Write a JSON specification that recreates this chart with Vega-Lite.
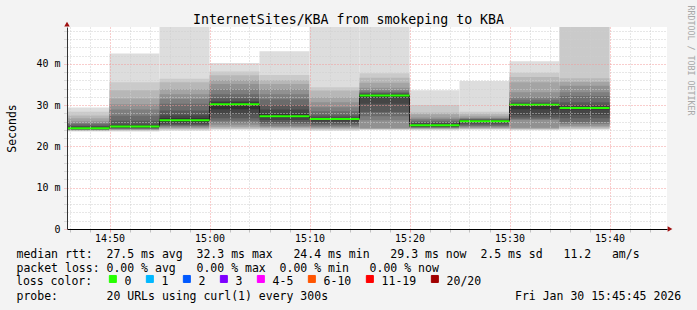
{
  "$schema": "https://vega.github.io/schema/vega-lite/v6.json",
  "width": 600,
  "height": 202,
  "autosize": {"type": "none"},
  "padding": {"left": 67, "top": 27, "right": 30, "bottom": 81},
  "background": "#f3f3f3",
  "config": {
    "font": "DejaVu Sans Mono",
    "view": {"fill": "#ffffff", "stroke": null}
  },
  "title": {
    "text": "InternetSites/KBA from smokeping to KBA",
    "font": "DejaVu Sans Mono",
    "fontSize": 13.25,
    "fontWeight": "normal",
    "color": "#000000",
    "anchor": "middle",
    "frame": "group",
    "baseline": "alphabetic",
    "dx": -18.5,
    "dy": 32,
    "offset": 0
  },
  "datasets": {
    "smoke": [
      {"t": "2026-01-30T14:45:00", "t2": "2026-01-30T14:50:00", "k": 1, "lo": 23.6, "hi": 29.4},
      {"t": "2026-01-30T14:45:00", "t2": "2026-01-30T14:50:00", "k": 2, "lo": 23.7, "hi": 28.4},
      {"t": "2026-01-30T14:45:00", "t2": "2026-01-30T14:50:00", "k": 3, "lo": 23.8, "hi": 27.5},
      {"t": "2026-01-30T14:45:00", "t2": "2026-01-30T14:50:00", "k": 4, "lo": 23.9, "hi": 26.8},
      {"t": "2026-01-30T14:45:00", "t2": "2026-01-30T14:50:00", "k": 5, "lo": 24.0, "hi": 26.1},
      {"t": "2026-01-30T14:45:00", "t2": "2026-01-30T14:50:00", "k": 6, "lo": 24.05, "hi": 25.7},
      {"t": "2026-01-30T14:45:00", "t2": "2026-01-30T14:50:00", "k": 7, "lo": 24.1, "hi": 25.4},
      {"t": "2026-01-30T14:45:00", "t2": "2026-01-30T14:50:00", "k": 8, "lo": 24.15, "hi": 25.0},
      {"t": "2026-01-30T14:45:00", "t2": "2026-01-30T14:50:00", "k": 9, "lo": 24.2, "hi": 24.8},
      {"t": "2026-01-30T14:45:00", "t2": "2026-01-30T14:50:00", "k": 10, "lo": 24.3, "hi": 24.6},

      {"t": "2026-01-30T14:50:00", "t2": "2026-01-30T14:55:00", "k": 1, "lo": 23.6, "hi": 42.5},
      {"t": "2026-01-30T14:50:00", "t2": "2026-01-30T14:55:00", "k": 2, "lo": 23.8, "hi": 35.5},
      {"t": "2026-01-30T14:50:00", "t2": "2026-01-30T14:55:00", "k": 3, "lo": 23.9, "hi": 33.6},
      {"t": "2026-01-30T14:50:00", "t2": "2026-01-30T14:55:00", "k": 4, "lo": 24.0, "hi": 31.6},
      {"t": "2026-01-30T14:50:00", "t2": "2026-01-30T14:55:00", "k": 5, "lo": 24.1, "hi": 30.2},
      {"t": "2026-01-30T14:50:00", "t2": "2026-01-30T14:55:00", "k": 6, "lo": 24.2, "hi": 28.9},
      {"t": "2026-01-30T14:50:00", "t2": "2026-01-30T14:55:00", "k": 7, "lo": 24.3, "hi": 27.4},
      {"t": "2026-01-30T14:50:00", "t2": "2026-01-30T14:55:00", "k": 8, "lo": 24.4, "hi": 26.2},
      {"t": "2026-01-30T14:50:00", "t2": "2026-01-30T14:55:00", "k": 9, "lo": 24.5, "hi": 25.3},
      {"t": "2026-01-30T14:50:00", "t2": "2026-01-30T14:55:00", "k": 10, "lo": 24.7, "hi": 25.0},

      {"t": "2026-01-30T14:55:00", "t2": "2026-01-30T15:00:00", "k": 1, "lo": 23.8, "hi": 55.0},
      {"t": "2026-01-30T14:55:00", "t2": "2026-01-30T15:00:00", "k": 2, "lo": 24.0, "hi": 36.4},
      {"t": "2026-01-30T14:55:00", "t2": "2026-01-30T15:00:00", "k": 3, "lo": 24.2, "hi": 35.5},
      {"t": "2026-01-30T14:55:00", "t2": "2026-01-30T15:00:00", "k": 4, "lo": 24.4, "hi": 33.9},
      {"t": "2026-01-30T14:55:00", "t2": "2026-01-30T15:00:00", "k": 5, "lo": 24.6, "hi": 32.6},
      {"t": "2026-01-30T14:55:00", "t2": "2026-01-30T15:00:00", "k": 6, "lo": 24.8, "hi": 31.5},
      {"t": "2026-01-30T14:55:00", "t2": "2026-01-30T15:00:00", "k": 7, "lo": 25.0, "hi": 30.3},
      {"t": "2026-01-30T14:55:00", "t2": "2026-01-30T15:00:00", "k": 8, "lo": 25.2, "hi": 28.7},
      {"t": "2026-01-30T14:55:00", "t2": "2026-01-30T15:00:00", "k": 9, "lo": 25.5, "hi": 27.5},
      {"t": "2026-01-30T14:55:00", "t2": "2026-01-30T15:00:00", "k": 10, "lo": 25.9, "hi": 26.8},

      {"t": "2026-01-30T15:00:00", "t2": "2026-01-30T15:05:00", "k": 1, "lo": 24.0, "hi": 40.2},
      {"t": "2026-01-30T15:00:00", "t2": "2026-01-30T15:05:00", "k": 2, "lo": 24.2, "hi": 38.1},
      {"t": "2026-01-30T15:00:00", "t2": "2026-01-30T15:05:00", "k": 3, "lo": 24.4, "hi": 37.2},
      {"t": "2026-01-30T15:00:00", "t2": "2026-01-30T15:05:00", "k": 4, "lo": 24.7, "hi": 36.1},
      {"t": "2026-01-30T15:00:00", "t2": "2026-01-30T15:05:00", "k": 5, "lo": 25.1, "hi": 35.1},
      {"t": "2026-01-30T15:00:00", "t2": "2026-01-30T15:05:00", "k": 6, "lo": 25.6, "hi": 33.9},
      {"t": "2026-01-30T15:00:00", "t2": "2026-01-30T15:05:00", "k": 7, "lo": 26.2, "hi": 32.6},
      {"t": "2026-01-30T15:00:00", "t2": "2026-01-30T15:05:00", "k": 8, "lo": 26.8, "hi": 31.6},
      {"t": "2026-01-30T15:00:00", "t2": "2026-01-30T15:05:00", "k": 9, "lo": 27.8, "hi": 30.9},
      {"t": "2026-01-30T15:00:00", "t2": "2026-01-30T15:05:00", "k": 10, "lo": 29.0, "hi": 30.6},

      {"t": "2026-01-30T15:05:00", "t2": "2026-01-30T15:10:00", "k": 1, "lo": 23.9, "hi": 43.0},
      {"t": "2026-01-30T15:05:00", "t2": "2026-01-30T15:10:00", "k": 2, "lo": 24.1, "hi": 37.3},
      {"t": "2026-01-30T15:05:00", "t2": "2026-01-30T15:10:00", "k": 3, "lo": 24.3, "hi": 36.1},
      {"t": "2026-01-30T15:05:00", "t2": "2026-01-30T15:10:00", "k": 4, "lo": 24.5, "hi": 35.1},
      {"t": "2026-01-30T15:05:00", "t2": "2026-01-30T15:10:00", "k": 5, "lo": 24.7, "hi": 33.9},
      {"t": "2026-01-30T15:05:00", "t2": "2026-01-30T15:10:00", "k": 6, "lo": 25.0, "hi": 32.6},
      {"t": "2026-01-30T15:05:00", "t2": "2026-01-30T15:10:00", "k": 7, "lo": 25.4, "hi": 31.4},
      {"t": "2026-01-30T15:05:00", "t2": "2026-01-30T15:10:00", "k": 8, "lo": 25.8, "hi": 30.0},
      {"t": "2026-01-30T15:05:00", "t2": "2026-01-30T15:10:00", "k": 9, "lo": 26.4, "hi": 28.9},
      {"t": "2026-01-30T15:05:00", "t2": "2026-01-30T15:10:00", "k": 10, "lo": 27.0, "hi": 27.8},

      {"t": "2026-01-30T15:10:00", "t2": "2026-01-30T15:15:00", "k": 1, "lo": 23.8, "hi": 56.0},
      {"t": "2026-01-30T15:10:00", "t2": "2026-01-30T15:15:00", "k": 2, "lo": 24.0, "hi": 34.3},
      {"t": "2026-01-30T15:10:00", "t2": "2026-01-30T15:15:00", "k": 3, "lo": 24.2, "hi": 33.5},
      {"t": "2026-01-30T15:10:00", "t2": "2026-01-30T15:15:00", "k": 4, "lo": 24.4, "hi": 31.9},
      {"t": "2026-01-30T15:10:00", "t2": "2026-01-30T15:15:00", "k": 5, "lo": 24.6, "hi": 30.7},
      {"t": "2026-01-30T15:10:00", "t2": "2026-01-30T15:15:00", "k": 6, "lo": 24.8, "hi": 29.5},
      {"t": "2026-01-30T15:10:00", "t2": "2026-01-30T15:15:00", "k": 7, "lo": 25.1, "hi": 28.5},
      {"t": "2026-01-30T15:10:00", "t2": "2026-01-30T15:15:00", "k": 8, "lo": 25.5, "hi": 27.5},
      {"t": "2026-01-30T15:10:00", "t2": "2026-01-30T15:15:00", "k": 9, "lo": 25.9, "hi": 27.0},
      {"t": "2026-01-30T15:10:00", "t2": "2026-01-30T15:15:00", "k": 10, "lo": 26.3, "hi": 26.8},

      {"t": "2026-01-30T15:15:00", "t2": "2026-01-30T15:20:00", "k": 1, "lo": 24.0, "hi": 57.0},
      {"t": "2026-01-30T15:15:00", "t2": "2026-01-30T15:20:00", "k": 2, "lo": 24.1, "hi": 37.7},
      {"t": "2026-01-30T15:15:00", "t2": "2026-01-30T15:20:00", "k": 3, "lo": 24.2, "hi": 36.6},
      {"t": "2026-01-30T15:15:00", "t2": "2026-01-30T15:20:00", "k": 4, "lo": 24.3, "hi": 35.4},
      {"t": "2026-01-30T15:15:00", "t2": "2026-01-30T15:20:00", "k": 5, "lo": 24.4, "hi": 34.2},
      {"t": "2026-01-30T15:15:00", "t2": "2026-01-30T15:20:00", "k": 6, "lo": 26.3, "hi": 33.6},
      {"t": "2026-01-30T15:15:00", "t2": "2026-01-30T15:20:00", "k": 7, "lo": 27.3, "hi": 33.2},
      {"t": "2026-01-30T15:15:00", "t2": "2026-01-30T15:20:00", "k": 8, "lo": 28.3, "hi": 32.9},
      {"t": "2026-01-30T15:15:00", "t2": "2026-01-30T15:20:00", "k": 9, "lo": 30.3, "hi": 32.7},
      {"t": "2026-01-30T15:15:00", "t2": "2026-01-30T15:20:00", "k": 10, "lo": 31.8, "hi": 32.5},

      {"t": "2026-01-30T15:20:00", "t2": "2026-01-30T15:25:00", "k": 1, "lo": 23.9, "hi": 33.6},
      {"t": "2026-01-30T15:20:00", "t2": "2026-01-30T15:25:00", "k": 2, "lo": 24.1, "hi": 30.0},
      {"t": "2026-01-30T15:20:00", "t2": "2026-01-30T15:25:00", "k": 3, "lo": 24.2, "hi": 28.2},
      {"t": "2026-01-30T15:20:00", "t2": "2026-01-30T15:25:00", "k": 4, "lo": 24.3, "hi": 27.8},
      {"t": "2026-01-30T15:20:00", "t2": "2026-01-30T15:25:00", "k": 5, "lo": 24.4, "hi": 27.0},
      {"t": "2026-01-30T15:20:00", "t2": "2026-01-30T15:25:00", "k": 6, "lo": 24.5, "hi": 26.6},
      {"t": "2026-01-30T15:20:00", "t2": "2026-01-30T15:25:00", "k": 7, "lo": 24.6, "hi": 26.2},
      {"t": "2026-01-30T15:20:00", "t2": "2026-01-30T15:25:00", "k": 8, "lo": 24.7, "hi": 25.9},
      {"t": "2026-01-30T15:20:00", "t2": "2026-01-30T15:25:00", "k": 9, "lo": 24.8, "hi": 25.6},
      {"t": "2026-01-30T15:20:00", "t2": "2026-01-30T15:25:00", "k": 10, "lo": 24.9, "hi": 25.3},

      {"t": "2026-01-30T15:25:00", "t2": "2026-01-30T15:30:00", "k": 1, "lo": 24.0, "hi": 35.8},
      {"t": "2026-01-30T15:25:00", "t2": "2026-01-30T15:30:00", "k": 2, "lo": 24.2, "hi": 28.4},
      {"t": "2026-01-30T15:25:00", "t2": "2026-01-30T15:30:00", "k": 3, "lo": 24.3, "hi": 27.9},
      {"t": "2026-01-30T15:25:00", "t2": "2026-01-30T15:30:00", "k": 4, "lo": 24.4, "hi": 27.4},
      {"t": "2026-01-30T15:25:00", "t2": "2026-01-30T15:30:00", "k": 5, "lo": 24.6, "hi": 27.0},
      {"t": "2026-01-30T15:25:00", "t2": "2026-01-30T15:30:00", "k": 6, "lo": 24.8, "hi": 26.8},
      {"t": "2026-01-30T15:25:00", "t2": "2026-01-30T15:30:00", "k": 7, "lo": 25.0, "hi": 26.6},
      {"t": "2026-01-30T15:25:00", "t2": "2026-01-30T15:30:00", "k": 8, "lo": 25.3, "hi": 26.5},
      {"t": "2026-01-30T15:25:00", "t2": "2026-01-30T15:30:00", "k": 9, "lo": 25.6, "hi": 26.3},
      {"t": "2026-01-30T15:25:00", "t2": "2026-01-30T15:30:00", "k": 10, "lo": 25.9, "hi": 26.2},

      {"t": "2026-01-30T15:30:00", "t2": "2026-01-30T15:35:00", "k": 1, "lo": 23.9, "hi": 40.6},
      {"t": "2026-01-30T15:30:00", "t2": "2026-01-30T15:35:00", "k": 2, "lo": 24.1, "hi": 37.8},
      {"t": "2026-01-30T15:30:00", "t2": "2026-01-30T15:35:00", "k": 3, "lo": 24.2, "hi": 36.8},
      {"t": "2026-01-30T15:30:00", "t2": "2026-01-30T15:35:00", "k": 4, "lo": 24.3, "hi": 35.5},
      {"t": "2026-01-30T15:30:00", "t2": "2026-01-30T15:35:00", "k": 5, "lo": 24.5, "hi": 33.1},
      {"t": "2026-01-30T15:30:00", "t2": "2026-01-30T15:35:00", "k": 6, "lo": 26.4, "hi": 31.9},
      {"t": "2026-01-30T15:30:00", "t2": "2026-01-30T15:35:00", "k": 7, "lo": 26.6, "hi": 31.3},
      {"t": "2026-01-30T15:30:00", "t2": "2026-01-30T15:35:00", "k": 8, "lo": 27.0, "hi": 30.7},
      {"t": "2026-01-30T15:30:00", "t2": "2026-01-30T15:35:00", "k": 9, "lo": 27.6, "hi": 30.4},
      {"t": "2026-01-30T15:30:00", "t2": "2026-01-30T15:35:00", "k": 10, "lo": 29.0, "hi": 30.2},

      {"t": "2026-01-30T15:35:00", "t2": "2026-01-30T15:40:00", "k": 1, "lo": 24.0, "hi": 60.0},
      {"t": "2026-01-30T15:35:00", "t2": "2026-01-30T15:40:00", "k": 2, "lo": 24.2, "hi": 52.0},
      {"t": "2026-01-30T15:35:00", "t2": "2026-01-30T15:40:00", "k": 3, "lo": 24.4, "hi": 36.5},
      {"t": "2026-01-30T15:35:00", "t2": "2026-01-30T15:40:00", "k": 4, "lo": 24.7, "hi": 35.6},
      {"t": "2026-01-30T15:35:00", "t2": "2026-01-30T15:40:00", "k": 5, "lo": 25.0, "hi": 34.7},
      {"t": "2026-01-30T15:35:00", "t2": "2026-01-30T15:40:00", "k": 6, "lo": 25.4, "hi": 33.1},
      {"t": "2026-01-30T15:35:00", "t2": "2026-01-30T15:40:00", "k": 7, "lo": 25.9, "hi": 32.2},
      {"t": "2026-01-30T15:35:00", "t2": "2026-01-30T15:40:00", "k": 8, "lo": 26.8, "hi": 30.7},
      {"t": "2026-01-30T15:35:00", "t2": "2026-01-30T15:40:00", "k": 9, "lo": 27.6, "hi": 30.0},
      {"t": "2026-01-30T15:35:00", "t2": "2026-01-30T15:40:00", "k": 10, "lo": 28.9, "hi": 29.6}
    ],
    "median": [
      {"t": "2026-01-30T14:45:00", "t2": "2026-01-30T14:50:00", "median": 24.4, "loss": "0"},
      {"t": "2026-01-30T14:50:00", "t2": "2026-01-30T14:55:00", "median": 24.8, "loss": "0"},
      {"t": "2026-01-30T14:55:00", "t2": "2026-01-30T15:00:00", "median": 26.3, "loss": "0"},
      {"t": "2026-01-30T15:00:00", "t2": "2026-01-30T15:05:00", "median": 30.2, "loss": "0"},
      {"t": "2026-01-30T15:05:00", "t2": "2026-01-30T15:10:00", "median": 27.3, "loss": "0"},
      {"t": "2026-01-30T15:10:00", "t2": "2026-01-30T15:15:00", "median": 26.6, "loss": "0"},
      {"t": "2026-01-30T15:15:00", "t2": "2026-01-30T15:20:00", "median": 32.3, "loss": "0"},
      {"t": "2026-01-30T15:20:00", "t2": "2026-01-30T15:25:00", "median": 25.1, "loss": "0"},
      {"t": "2026-01-30T15:25:00", "t2": "2026-01-30T15:30:00", "median": 26.1, "loss": "0"},
      {"t": "2026-01-30T15:30:00", "t2": "2026-01-30T15:35:00", "median": 30.1, "loss": "0"},
      {"t": "2026-01-30T15:35:00", "t2": "2026-01-30T15:40:00", "median": 29.3, "loss": "0"}
    ]
  },
  "layer": [
    {
      "data": {"name": "smoke"},
      "mark": {"type": "rect", "clip": true},
      "encoding": {
        "x": {
          "field": "t", "type": "temporal",
          "scale": {"domain": [{"year": 2026, "month": 1, "date": 30, "hours": 14, "minutes": 45, "seconds": 45}, {"year": 2026, "month": 1, "date": 30, "hours": 15, "minutes": 45, "seconds": 45}], "nice": false},
          "axis": {
            "orient": "bottom",
            "zindex": 1,
            "values": [
              {"year": 2026, "month": 1, "date": 30, "hours": 14, "minutes": 46},
              {"year": 2026, "month": 1, "date": 30, "hours": 14, "minutes": 48},
              {"year": 2026, "month": 1, "date": 30, "hours": 14, "minutes": 52},
              {"year": 2026, "month": 1, "date": 30, "hours": 14, "minutes": 54},
              {"year": 2026, "month": 1, "date": 30, "hours": 14, "minutes": 56},
              {"year": 2026, "month": 1, "date": 30, "hours": 14, "minutes": 58},
              {"year": 2026, "month": 1, "date": 30, "hours": 15, "minutes": 2},
              {"year": 2026, "month": 1, "date": 30, "hours": 15, "minutes": 4},
              {"year": 2026, "month": 1, "date": 30, "hours": 15, "minutes": 6},
              {"year": 2026, "month": 1, "date": 30, "hours": 15, "minutes": 8},
              {"year": 2026, "month": 1, "date": 30, "hours": 15, "minutes": 12},
              {"year": 2026, "month": 1, "date": 30, "hours": 15, "minutes": 14},
              {"year": 2026, "month": 1, "date": 30, "hours": 15, "minutes": 16},
              {"year": 2026, "month": 1, "date": 30, "hours": 15, "minutes": 18},
              {"year": 2026, "month": 1, "date": 30, "hours": 15, "minutes": 22},
              {"year": 2026, "month": 1, "date": 30, "hours": 15, "minutes": 24},
              {"year": 2026, "month": 1, "date": 30, "hours": 15, "minutes": 26},
              {"year": 2026, "month": 1, "date": 30, "hours": 15, "minutes": 28},
              {"year": 2026, "month": 1, "date": 30, "hours": 15, "minutes": 32},
              {"year": 2026, "month": 1, "date": 30, "hours": 15, "minutes": 34},
              {"year": 2026, "month": 1, "date": 30, "hours": 15, "minutes": 36},
              {"year": 2026, "month": 1, "date": 30, "hours": 15, "minutes": 38},
              {"year": 2026, "month": 1, "date": 30, "hours": 15, "minutes": 42},
              {"year": 2026, "month": 1, "date": 30, "hours": 15, "minutes": 44}
            ],
            "labels": false,
            "domain": false,
            "grid": true,
            "gridDash": [1, 2],
            "gridColor": "#cfcfcf",
            "tickColor": "#bfbfbf",
            "tickSize": 3,
            "title": "probe:\u00a0\u00a0\u00a0\u00a0\u00a0\u00a0\u00a020 URLs using curl(1) every 300s\u00a0\u00a0\u00a0\u00a0\u00a0\u00a0\u00a0\u00a0\u00a0\u00a0\u00a0\u00a0\u00a0\u00a0\u00a0\u00a0\u00a0\u00a0\u00a0\u00a0\u00a0\u00a0\u00a0\u00a0\u00a0\u00a0\u00a0Fri Jan 30 15:45:45 2026",
            "titleFont": "DejaVu Sans Mono",
            "titleFontSize": 11.5,
            "titleFontWeight": "normal",
            "titleColor": "#000000",
            "titleAlign": "left",
            "titleAnchor": "start",
            "titleBaseline": "alphabetic",
            "titleX": -51,
            "titleY": 70.6
          }
        },
        "x2": {"field": "t2"},
        "y": {
          "field": "lo", "type": "quantitative",
          "scale": {"domain": [0, 48.9], "nice": false, "zero": false},
          "axis": {
            "orient": "left",
            "zindex": 1,
            "values": [0, 2, 4, 6, 8, 10, 12, 14, 16, 18, 20, 22, 24, 26, 28, 30, 32, 34, 36, 38, 40, 42, 44, 46, 48],
            "labelExpr": "datum.value % 10 === 0 ? (datum.value === 0 ? '0' : datum.value + ' m') : ''",
            "labelFont": "DejaVu Sans Mono",
            "labelFontSize": 9.97,
            "labelColor": "#000000",
            "labelPadding": 3,
            "labelOverlap": false,
            "labelFlush": false,
            "grid": true,
            "gridDash": [1, 2],
            "gridColor": {"condition": {"test": "datum.value % 10 === 0", "value": "#f29a9a"}, "value": "#cfcfcf"},
            "tickColor": {"condition": {"test": "datum.value % 10 === 0", "value": "#f29a9a"}, "value": "#bfbfbf"},
            "tickDash": [1, 1],
            "tickSize": 4,
            "domainColor": "#333333",
            "title": "Seconds",
            "titleFont": "DejaVu Sans Mono",
            "titleFontSize": 11.5,
            "titleFontWeight": "normal",
            "titleColor": "#000000",
            "titleAngle": -90,
            "titleAlign": "center",
            "titleBaseline": "alphabetic",
            "titleX": -52,
            "titleY": 101
          }
        },
        "y2": {"field": "hi"},
        "fill": {
          "field": "k", "type": "ordinal",
          "scale": {"domain": [1, 2, 3, 4, 5, 6, 7, 8, 9, 10], "range": ["#dddddd", "#cacaca", "#b7b7b7", "#a4a4a4", "#919191", "#7e7e7e", "#6b6b6b", "#585858", "#454545", "#323232"]},
          "legend": null
        }
      }
    },
    {
      "data": {"name": "median"},
      "mark": {"type": "line", "interpolate": "step-after", "color": "#202020", "strokeWidth": 1, "clip": true},
      "encoding": {
        "x": {
          "field": "t", "type": "temporal",
          "scale": {"domain": [{"year": 2026, "month": 1, "date": 30, "hours": 14, "minutes": 45, "seconds": 45}, {"year": 2026, "month": 1, "date": 30, "hours": 15, "minutes": 45, "seconds": 45}], "nice": false},
          "axis": {
            "orient": "bottom",
            "zindex": 1,
            "values": [
              {"year": 2026, "month": 1, "date": 30, "hours": 14, "minutes": 50},
              {"year": 2026, "month": 1, "date": 30, "hours": 15, "minutes": 0},
              {"year": 2026, "month": 1, "date": 30, "hours": 15, "minutes": 10},
              {"year": 2026, "month": 1, "date": 30, "hours": 15, "minutes": 20},
              {"year": 2026, "month": 1, "date": 30, "hours": 15, "minutes": 30},
              {"year": 2026, "month": 1, "date": 30, "hours": 15, "minutes": 40}
            ],
            "format": "%H:%M",
            "labelOverlap": false,
            "labelFlush": false,
            "labelFont": "DejaVu Sans Mono",
            "labelFontSize": 9.97,
            "labelColor": "#000000",
            "labelBaseline": "alphabetic",
            "labelPadding": 9,
            "grid": true,
            "gridDash": [1, 2],
            "gridColor": "#f29a9a",
            "tickColor": "#f29a9a",
            "tickSize": 3,
            "domainColor": "#000000",
            "title": [
              "median rtt:\u00a0\u00a027.5 ms avg\u00a0\u00a032.3 ms max\u00a0\u00a0\u00a024.4 ms min\u00a0\u00a0\u00a029.3 ms now\u00a0\u00a02.5 ms sd\u00a0\u00a0\u00a011.2\u00a0\u00a0\u00a0am/s",
              "packet loss:\u00a00.00 % avg\u00a0\u00a0\u00a00.00 % max\u00a0\u00a00.00 % min\u00a0\u00a0\u00a00.00 % now"
            ],
            "titleFont": "DejaVu Sans Mono",
            "titleFontSize": 11.5,
            "titleFontWeight": "normal",
            "titleColor": "#000000",
            "titleAlign": "left",
            "titleAnchor": "start",
            "titleBaseline": "alphabetic",
            "titleLineHeight": 14.1,
            "titleX": -51,
            "titleY": 28.3
          }
        },
        "y": {"field": "median", "type": "quantitative", "scale": {"domain": [0, 48.9], "nice": false, "zero": false}, "axis": null}
      }
    },
    {
      "data": {"name": "median"},
      "mark": {"type": "rule", "strokeWidth": 2, "clip": true},
      "encoding": {
        "x": {"field": "t", "type": "temporal", "scale": {"domain": [{"year": 2026, "month": 1, "date": 30, "hours": 14, "minutes": 45, "seconds": 45}, {"year": 2026, "month": 1, "date": 30, "hours": 15, "minutes": 45, "seconds": 45}], "nice": false}, "axis": null},
        "x2": {"field": "t2"},
        "y": {"field": "median", "type": "quantitative", "scale": {"domain": [0, 48.9], "nice": false, "zero": false}, "axis": null},
        "stroke": {
          "field": "loss", "type": "nominal",
          "scale": {"domain": ["0", "1", "2", "3", "4-5", "6-10", "11-19", "20/20"], "range": ["#26ff00", "#00b8ff", "#0059ff", "#7e00ff", "#ff00ff", "#ff5500", "#ff0000", "#a10000"]},
          "legend": {
            "orient": "none",
            "legendX": -51,
            "legendY": 246,
            "direction": "horizontal",
            "title": "loss color:",
            "titleOrient": "left",
            "titleAnchor": "start",
            "titleBaseline": "top",
            "titlePadding": 14.1,
            "titleFont": "DejaVu Sans Mono",
            "titleFontSize": 11.5,
            "titleFontWeight": "normal",
            "titleColor": "#000000",
            "padding": 0,
            "symbolType": "square",
            "symbolSize": 49,
            "symbolStrokeWidth": 1,
            "symbolStrokeColor": "#000000",
            "labelFont": "DejaVu Sans Mono",
            "labelFontSize": 11.5,
            "labelColor": "#000000",
            "labelOffset": 6,
            "columnPadding": 12,
            "encode": {
              "symbols": {"update": {"fill": {"scale": "stroke", "field": "value"}, "stroke": {"value": "#000000"}, "strokeWidth": {"value": 1}, "opacity": {"value": 1}, "fillOpacity": {"value": 1}}},
              "labels": {"update": {"dy": {"value": 3.3}}},
              "title": {"update": {"dy": {"value": 3.4}}}
            }
          }
        }
      }
    },
    {
      "data": {"values": [{}]},
      "mark": {"type": "point", "shape": "triangle-up", "filled": true, "color": "#a01010", "size": 30, "opacity": 1},
      "encoding": {
        "x": {"datum": {"year": 2026, "month": 1, "date": 30, "hours": 14, "minutes": 45, "seconds": 45}, "type": "temporal", "scale": {"domain": [{"year": 2026, "month": 1, "date": 30, "hours": 14, "minutes": 45, "seconds": 45}, {"year": 2026, "month": 1, "date": 30, "hours": 15, "minutes": 45, "seconds": 45}], "nice": false}, "axis": null},
        "y": {
          "datum": 49.6, "type": "quantitative",
          "scale": {"domain": [0, 48.9], "nice": false, "zero": false},
          "axis": {
            "orient": "right",
            "grid": false,
            "ticks": false,
            "labels": false,
            "domain": false,
            "title": "RRDTOOL / TOBI OETIKER",
            "titleFont": "DejaVu Sans Mono",
            "titleFontSize": 8.3,
            "titleFontWeight": "normal",
            "titleColor": "#a8a8a8",
            "titleAngle": 90,
            "titleAlign": "center",
            "titleBaseline": "middle",
            "titleX": 22,
            "titleY": 33
          }
        }
      }
    },
    {
      "data": {"values": [{}]},
      "mark": {"type": "point", "shape": "triangle-right", "filled": true, "color": "#a01010", "size": 30, "opacity": 1},
      "encoding": {
        "x": {"datum": {"year": 2026, "month": 1, "date": 30, "hours": 15, "minutes": 46, "seconds": 3}, "type": "temporal", "scale": {"domain": [{"year": 2026, "month": 1, "date": 30, "hours": 14, "minutes": 45, "seconds": 45}, {"year": 2026, "month": 1, "date": 30, "hours": 15, "minutes": 45, "seconds": 45}], "nice": false}, "axis": null},
        "y": {"datum": 0, "type": "quantitative", "scale": {"domain": [0, 48.9], "nice": false, "zero": false}, "axis": null}
      }
    }
  ],
  "resolve": {"axis": {"x": "independent", "y": "independent"}}
}
